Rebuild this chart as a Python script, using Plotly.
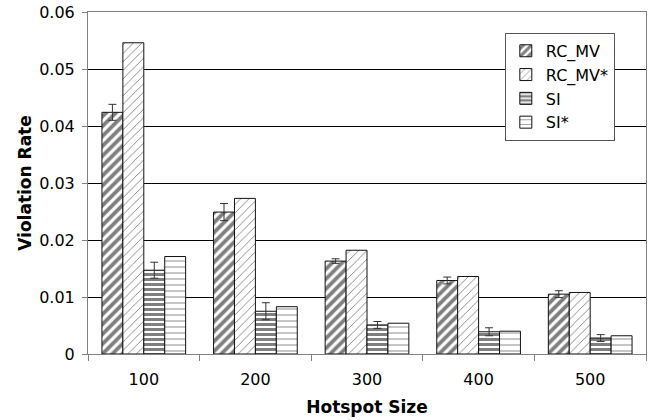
import plotly.graph_objects as go

sizes = ["100", "200", "300", "400", "500"]
rc_mv = [0.0424, 0.0249, 0.0163, 0.0129, 0.0105]
rc_mv_err = [0.0014, 0.0015, 0.0004, 0.0006, 0.0006]
rc_mv_star = [0.0546, 0.0273, 0.0182, 0.0136, 0.0108]
si = [0.0147, 0.0075, 0.0051, 0.0039, 0.0028]
si_err = [0.0014, 0.0015, 0.0006, 0.0007, 0.0006]
si_star = [0.0171, 0.0083, 0.0054, 0.0040, 0.0032]
y_ticks = [0, 0.01, 0.02, 0.03, 0.04, 0.05, 0.06]
y_tick_text = ["0", "0.01", "0.02", "0.03", "0.04", "0.05", "0.06"]

FONT = "DejaVu Sans"

def bar(name, vals, shape, solidity, size, err=None):
    kw = {}
    if err is not None:
        kw["error_y"] = dict(type="data", array=err, symmetric=True,
                             color="#333333", thickness=1, width=4)
    return go.Bar(
        name=name, x=sizes, y=vals,
        marker=dict(color="white",
                    line=dict(color="#111111", width=1),
                    pattern=dict(shape=shape, fgcolor="black", bgcolor="white",
                                 solidity=solidity, size=size)),
        **kw)

fig = go.Figure([
    bar("RC_MV", rc_mv, "/", 0.55, 7, rc_mv_err),
    bar("RC_MV*", rc_mv_star, "/", 0.15, 6),
    bar("SI", si, "-", 0.6, 5, si_err),
    bar("SI*", si_star, "-", 0.15, 6),
])

fig.update_layout(
    width=656, height=420,
    margin=dict(l=88, r=10, t=12, b=66, autoexpand=False),
    paper_bgcolor="white", plot_bgcolor="white",
    barmode="group", bargap=0.25, bargroupgap=0,
    font=dict(family=FONT, size=16, color="black"),
    legend=dict(x=0.747, y=0.939, xanchor="left", yanchor="top",
                bgcolor="white", bordercolor="#555555", borderwidth=1,
                font=dict(family=FONT, size=16), tracegroupgap=0,
                itemwidth=30),
    showlegend=True,
)

fig.update_xaxes(
    type="category", showline=True, linecolor="#808080", linewidth=1,
    mirror=True, ticks="outside", tickson="boundaries", ticklen=6,
    tickcolor="#808080", showgrid=False, automargin=False,
    ticklabelstandoff=11,
    title=dict(text="<b>Hotspot Size</b>", font=dict(family=FONT, size=17),
               standoff=12),
)
fig.update_yaxes(
    range=[0, 0.06], tickvals=y_ticks, ticktext=y_tick_text,
    showline=True, linecolor="#808080", linewidth=1, mirror=True,
    ticks="outside", ticklen=5, tickcolor="#808080", automargin=False,
    ticklabelstandoff=4,
    showgrid=True, gridcolor="black", gridwidth=1, zeroline=False,
    title=dict(text="<b>Violation Rate</b>", font=dict(family=FONT, size=17),
               standoff=3),
)

fig.write_html("out.html")
